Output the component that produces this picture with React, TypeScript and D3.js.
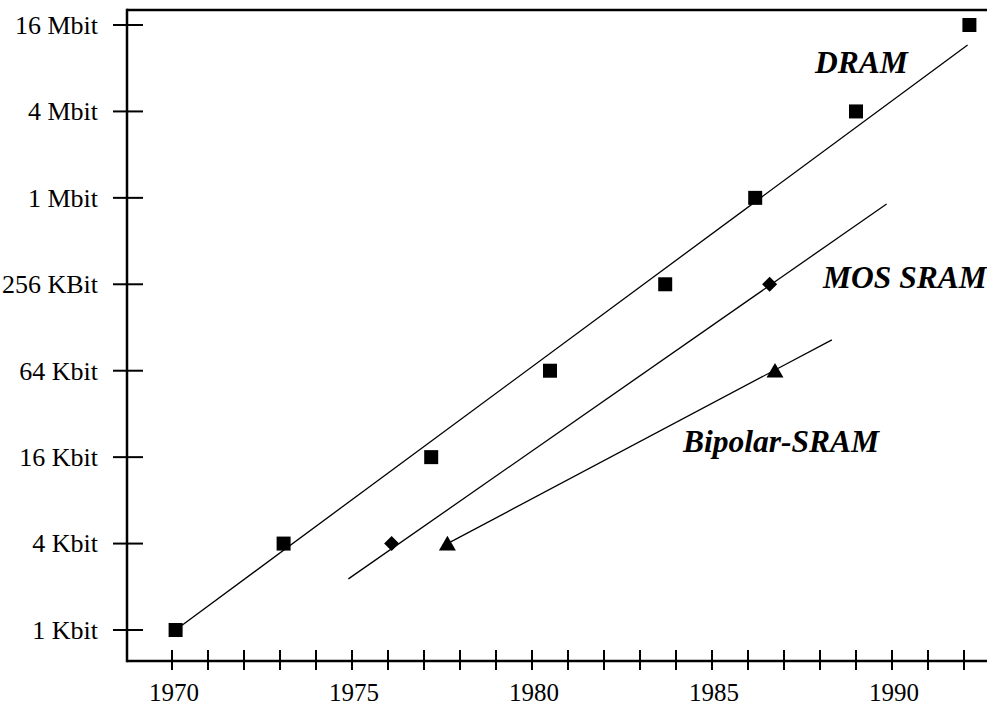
import React from "react";
import { scaleLinear, scaleLog, symbol, symbolSquare, symbolTriangle, line } from "d3";

// memory chip capacity (Kbit) vs. year of introduction
const dramYears = [1970.1, 1973.1, 1977.2, 1980.5, 1983.7, 1986.2, 1989.0, 1992.15];
const dramKbit = [1, 4, 16, 64, 256, 1024, 4096, 16384];

const mosYears = [1976.1, 1986.6];
const mosKbit = [4, 256];

const bipolarYears = [1977.65, 1986.75];
const bipolarKbit = [4, 64];

// fitted trend lines (start / end)
const dramTrendYears = [1970.1, 1992.1];
const dramTrendKbit = [1, 11900];
const mosTrendYears = [1974.9, 1989.85];
const mosTrendKbit = [2.27, 929];
const bipolarTrendYears = [1977.65, 1988.33];
const bipolarTrendKbit = [4, 105];

const yTickValues = [1, 4, 16, 64, 256, 1024, 4096, 16384];
const yTickLabels = ["1 Kbit", "4 Kbit", "16 Kbit", "64 Kbit", "256 KBit", "1 Mbit", "4 Mbit", "16 Mbit"];
const xTickYears = [1970, 1971, 1972, 1973, 1974, 1975, 1976, 1977, 1978, 1979, 1980, 1981,
  1982, 1983, 1984, 1985, 1986, 1987, 1988, 1989, 1990, 1991, 1992];
const xLabelYears = [1970, 1975, 1980, 1985, 1990];

const W = 987;
const H = 708;
const FONT = "'Liberation Serif', 'Times New Roman', serif";

export default function App() {
  const x = scaleLinear().domain([1970, 1990]).range([172, 892]);
  const y = scaleLog().base(2).domain([1, 16384]).range([630, 25]);

  const axisLeftX = 127;
  const axisTopY = 10;
  const axisBottomY = 661;

  const trend = line<[number, number]>()
    .x((d) => x(d[0]))
    .y((d) => y(d[1]));
  const pairs = (ys: number[], vs: number[]) => ys.map((yr, i) => [yr, vs[i]] as [number, number]);

  const square = symbol().type(symbolSquare).size(196)() as string;
  const triangle = symbol().type(symbolTriangle).size(125)() as string;
  const diamond = "M0,-7.5L7.5,0L0,7.5L-7.5,0Z";

  return (
    <div style={{ position: "absolute", left: 0, top: 0 }}>
      <svg width={W} height={H} style={{ display: "block", background: "#fff" }} fontFamily={FONT}>
        {/* frame */}
        <line x1={axisLeftX} x2={W} y1={axisTopY} y2={axisTopY} stroke="#000" strokeWidth={2.5} />
        <line x1={axisLeftX} x2={axisLeftX} y1={axisTopY - 1.25} y2={axisBottomY + 1.25} stroke="#000" strokeWidth={2.5} />
        <line x1={axisLeftX} x2={W} y1={axisBottomY} y2={axisBottomY} stroke="#000" strokeWidth={2.5} />

        {/* y axis */}
        {yTickValues.map((v, i) => (
          <g key={v} transform={`translate(0,${y(v)})`}>
            <line x1={113} x2={143} stroke="#000" strokeWidth={2} />
            <text x={98} dy="0.34em" textAnchor="end" fontSize={26}>
              {yTickLabels[i]}
            </text>
          </g>
        ))}

        {/* x axis */}
        {xTickYears.map((yr) => (
          <line key={yr} x1={x(yr)} x2={x(yr)} y1={axisBottomY - 11} y2={axisBottomY + 9} stroke="#000" strokeWidth={2} />
        ))}
        {xLabelYears.map((yr) => (
          <text key={yr} x={x(yr) + 2} y={701} textAnchor="middle" fontSize={25}>
            {yr}
          </text>
        ))}

        {/* trend lines */}
        <path d={trend(pairs(dramTrendYears, dramTrendKbit)) as string} fill="none" stroke="#000" strokeWidth={1.3} />
        <path d={trend(pairs(mosTrendYears, mosTrendKbit)) as string} fill="none" stroke="#000" strokeWidth={1.3} />
        <path d={trend(pairs(bipolarTrendYears, bipolarTrendKbit)) as string} fill="none" stroke="#000" strokeWidth={1.3} />

        {/* markers */}
        {dramYears.map((yr, i) => (
          <path key={yr} d={square} transform={`translate(${x(yr)},${y(dramKbit[i])})`} fill="#000" />
        ))}
        {mosYears.map((yr, i) => (
          <path key={yr} d={diamond} transform={`translate(${x(yr)},${y(mosKbit[i])})`} fill="#000" />
        ))}
        {bipolarYears.map((yr, i) => (
          <path key={yr} d={triangle} transform={`translate(${x(yr)},${y(bipolarKbit[i]) + 2})`} fill="#000" />
        ))}

        {/* series labels */}
        <text x={815} y={73} fontSize={31.5} fontWeight="bold" fontStyle="italic">DRAM</text>
        <text x={823} y={288} fontSize={31.5} fontWeight="bold" fontStyle="italic">MOS SRAM</text>
        <text x={683} y={452} fontSize={31.5} fontWeight="bold" fontStyle="italic">Bipolar-SRAM</text>
      </svg>
    </div>
  );
}
